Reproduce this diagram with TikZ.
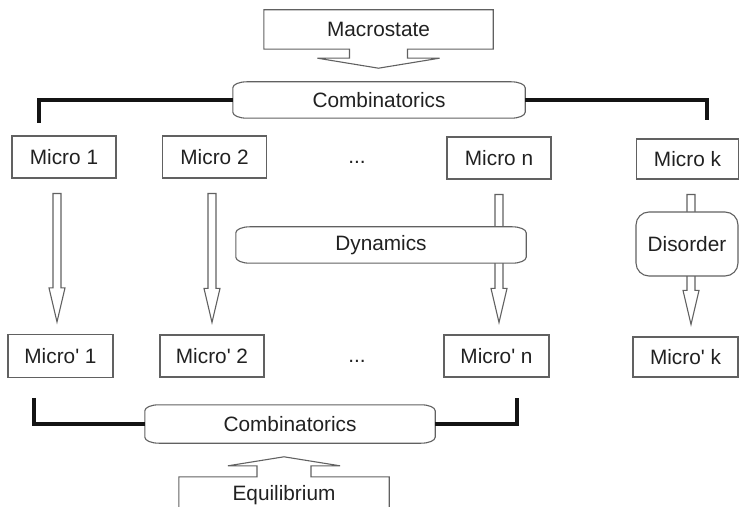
\documentclass[tikz,border=0pt]{standalone}
\usepackage{fontspec}
\setsansfont{Liberation Sans}
\usetikzlibrary{calc,backgrounds}

% flat rounded outline round a node
\newcommand{\barrel}[1]{%
  \draw[outline, fill=white] ([yshift=-6pt]#1.north west)
    arc[start angle=180, end angle=90, x radius=14pt, y radius=6pt]
    -- ([xshift=-14pt]#1.north east)
    arc[start angle=90, end angle=0, x radius=14pt, y radius=6pt]
    -- ([yshift=6pt]#1.south east)
    arc[start angle=0, end angle=-90, x radius=14pt, y radius=6pt]
    -- ([xshift=14pt]#1.south west)
    arc[start angle=270, end angle=180, x radius=14pt, y radius=6pt]
    -- cycle;}

% hollow arrow from one node down to another
\newcommand{\hollowarrow}[3]{%
  \draw[outline, fill=white] let \p1=([xshift=#3]#1.south), \p2=(#2.north) in
    (\x1-4pt,\y1-15pt) -- (\x1+4pt,\y1-15pt) -- (\x1+4pt,\y2+46pt)
    -- (\x1+8pt,\y2+46pt) -- (\x1,\y2+12pt) -- (\x1-8pt,\y2+46pt)
    -- (\x1-4pt,\y2+46pt) -- cycle;}

\begin{document}
\begin{tikzpicture}[x=1pt, y=1pt,
    txt/.style={text=black!87, inner sep=0pt, font=\sffamily\fontsize{20.8}{24}\selectfont},
    outline/.style={draw=black!62, line width=1.1pt},
    microbox/.style={txt, outline, minimum width=104pt, minimum height=42pt},
    thickline/.style={black!92, line width=3.6pt}]
    \useasboundingbox (0,0) rectangle (741,506);
    \clip (0,0) rectangle (741,506);

    % Top
    \node[txt, minimum width=229pt, minimum height=39pt] (macro) at (378.5,476.5) {Macrostate};
    \node[txt, minimum width=292pt, minimum height=36pt] (combA) at (379,406) {Combinatorics};
    \draw[outline] (macro.south west) -- (macro.north west) -- (macro.north east) -- (macro.south east)
        -- ([xshift=29pt]macro.south) -- ++(0,-9pt) -- ++(32pt,0) -- ([yshift=-19pt]macro.south)
        -- ++(-61pt,10pt) -- ++(32pt,0) -- ++(0,9pt) -- cycle;

    % Micro states
    \node[microbox] (micro1) at (64,349) {Micro 1};
    \node[microbox] (micro2) at (214.5,349) {Micro 2};
    \node[txt, anchor=base] (dotsA) at (357,342) {...};
    \node[microbox] (micron) at (499,348) {Micro n};
    \node[microbox, minimum width=102pt, minimum height=40pt] (microk) at (687.5,347) {Micro k};

    % Micro' states
    \node[microbox, minimum width=105pt, minimum height=43pt] (microp1) at (60.5,150) {Micro\textquotesingle{} 1};
    \node[microbox] (microp2) at (212,150) {Micro\textquotesingle{} 2};
    \node[txt, anchor=base] (dotsB) at (357,143) {...};
    \node[microbox, minimum width=105pt] (micropn) at (496.5,150) {Micro\textquotesingle{} n};
    \node[microbox, minimum width=105pt, minimum height=40pt] (micropk) at (685.5,149) {Micro\textquotesingle{} k};

    % Middle
    \node[txt, minimum width=290pt, minimum height=36pt] (dyn) at (381,261) {Dynamics};

    % Bottom
    \node[txt, minimum width=290pt, minimum height=38pt] (combB) at (290,82) {Combinatorics};
    \node[txt, minimum width=210pt, minimum height=36pt] (equil) at (284,11) {Equilibrium};
    \draw[outline] (equil.south west) -- (equil.north west) -- ([xshift=-27pt]equil.north)
        -- ++(0,11pt) -- ++(-29pt,0) -- ([yshift=20pt]equil.north) -- ++(56pt,-9pt)
        -- ++(-29pt,0) -- ++(0,-11pt) -- (equil.north east) -- (equil.south east);

    % Brackets
    \coordinate (tlA) at (39,383);
    \coordinate (tlB) at (707,386);
    \coordinate (blA) at (34,108);
    \coordinate (blB) at (517,108);
    \draw[thickline] (tlA) |- (combA.west);
    \draw[thickline] (combA.east) -| (tlB);
    \draw[thickline] (blA) |- (combB.west);
    \draw[thickline] (combB.east) -| (blB);

    \begin{scope}[on background layer]
        \hollowarrow{micro1}{microp1}{-7pt}
        \hollowarrow{micro2}{microp2}{-2.5pt}
        \hollowarrow{micron}{micropn}{0pt}
        \hollowarrow{microk}{micropk}{3.5pt}
        \barrel{combA}
        \barrel{dyn}
        \barrel{combB}
    \end{scope}

    \node[txt, outline, fill=white, rounded corners=13pt, minimum width=102pt, minimum height=64pt]
        (disorder) at (687,262) {Disorder};
\end{tikzpicture}
\end{document}
